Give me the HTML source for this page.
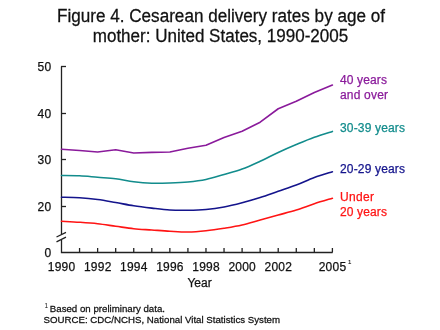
<!DOCTYPE html>
<html><head><meta charset="utf-8"><style>
html,body{margin:0;padding:0;background:#fff;width:440px;height:330px;overflow:hidden}
svg{display:block;}
#w{width:440px;height:330px;will-change:transform;}
text{stroke:currentColor;stroke-width:0.25px;}
svg{font-family:"Liberation Sans",sans-serif}
</style></head><body><div id="w">
<svg width="440" height="330" viewBox="0 0 440 330">
<rect width="440" height="330" fill="#fff"/>
<g font-size="17" fill="#111" color="#111" text-anchor="middle">
<text x="221" y="0" transform="translate(0,22) scale(1,1.05)" textLength="328" lengthAdjust="spacingAndGlyphs">Figure 4. Cesarean delivery rates by age of</text>
<text x="220.5" y="0" transform="translate(0,42.2) scale(1,1.05)" textLength="255.5" lengthAdjust="spacingAndGlyphs">mother: United States, 1990-2005</text>
</g>
<g stroke="#222" stroke-width="1.3" fill="none">
<path d="M61.5,66.5 V234 M61.5,240 V252.5 H332.6"/>
<line x1="61" y1="66.5" x2="66" y2="66.5"/><line x1="61" y1="113.5" x2="66" y2="113.5"/><line x1="61" y1="159.5" x2="66" y2="159.5"/><line x1="61" y1="206.5" x2="66" y2="206.5"/>
<line x1="79.56" y1="248" x2="79.56" y2="252.5"/><line x1="97.62" y1="248" x2="97.62" y2="252.5"/><line x1="115.68" y1="248" x2="115.68" y2="252.5"/><line x1="133.74" y1="248" x2="133.74" y2="252.5"/><line x1="151.80" y1="248" x2="151.80" y2="252.5"/><line x1="169.86" y1="248" x2="169.86" y2="252.5"/><line x1="187.92" y1="248" x2="187.92" y2="252.5"/><line x1="205.98" y1="248" x2="205.98" y2="252.5"/><line x1="224.04" y1="248" x2="224.04" y2="252.5"/><line x1="242.10" y1="248" x2="242.10" y2="252.5"/><line x1="260.16" y1="248" x2="260.16" y2="252.5"/><line x1="278.22" y1="248" x2="278.22" y2="252.5"/><line x1="296.28" y1="248" x2="296.28" y2="252.5"/><line x1="314.34" y1="248" x2="314.34" y2="252.5"/><line x1="332.40" y1="248" x2="332.40" y2="252.5"/>
<path d="M56.5,237 L66,232.3 M56.5,241.8 L66,237.1"/>
</g>
<g font-size="12" fill="#111" color="#111" text-anchor="end">
<text x="51.3" y="71.1" textLength="13.8" lengthAdjust="spacing">50</text>
<text x="51.3" y="117.6" textLength="13.8" lengthAdjust="spacing">40</text>
<text x="51.3" y="163.6" textLength="13.8" lengthAdjust="spacing">30</text>
<text x="51.3" y="210.6" textLength="13.8" lengthAdjust="spacing">20</text>
<text x="51.3" y="256.6">0</text>
</g>
<g font-size="12" fill="#111" color="#111">
<text x="61.50" y="271.3" text-anchor="middle" textLength="27.4" lengthAdjust="spacing">1990</text><text x="97.62" y="271.3" text-anchor="middle" textLength="27.4" lengthAdjust="spacing">1992</text><text x="133.74" y="271.3" text-anchor="middle" textLength="27.4" lengthAdjust="spacing">1994</text><text x="169.86" y="271.3" text-anchor="middle" textLength="27.4" lengthAdjust="spacing">1996</text><text x="205.98" y="271.3" text-anchor="middle" textLength="27.4" lengthAdjust="spacing">1998</text><text x="242.10" y="271.3" text-anchor="middle" textLength="27.4" lengthAdjust="spacing">2000</text><text x="278.22" y="271.3" text-anchor="middle" textLength="27.4" lengthAdjust="spacing">2002</text><text x="332.40" y="271.3" text-anchor="middle" textLength="27.4" lengthAdjust="spacing">2005</text>
<text x="199.5" y="286.7" text-anchor="middle">Year</text>
<text x="348" y="264" font-size="6" style="stroke-width:0.1px">1</text>
</g>
<g fill="none" stroke-width="1.6" stroke-linejoin="round" stroke-linecap="round">
<polyline points="61.50,149.30 79.56,150.50 97.62,152.00 115.68,149.80 133.74,153.00 151.80,152.40 169.86,152.00 187.92,148.25 205.98,145.25 224.04,137.50 242.10,131.25 260.16,122.20 278.22,108.75 296.28,101.25 314.34,92.50 332.40,85.00" stroke="#8a1a9b"/>
<path d="M61.50,175.50 C64.51,175.54 73.54,175.46 79.56,175.75 C85.58,176.04 91.60,176.75 97.62,177.25 C103.64,177.75 109.66,178.00 115.68,178.75 C121.70,179.50 127.72,181.01 133.74,181.75 C139.76,182.49 145.78,182.99 151.80,183.20 C157.82,183.41 163.84,183.20 169.86,183.00 C175.88,182.80 181.90,182.58 187.92,182.00 C193.94,181.42 199.96,180.75 205.98,179.50 C212.00,178.25 218.02,176.25 224.04,174.50 C230.06,172.75 236.08,171.22 242.10,169.00 C248.12,166.78 254.14,163.95 260.16,161.20 C266.18,158.45 272.20,155.27 278.22,152.50 C284.24,149.73 290.26,147.13 296.28,144.60 C302.30,142.07 308.32,139.50 314.34,137.30 C320.36,135.10 329.39,132.38 332.40,131.40" stroke="#128c8c"/>
<path d="M61.50,197.25 C64.51,197.33 73.54,197.38 79.56,197.75 C85.58,198.12 91.60,198.71 97.62,199.50 C103.64,200.29 109.66,201.46 115.68,202.50 C121.70,203.54 127.72,204.82 133.74,205.75 C139.76,206.68 145.78,207.39 151.80,208.10 C157.82,208.81 163.84,209.64 169.86,210.00 C175.88,210.36 181.90,210.33 187.92,210.25 C193.94,210.17 199.96,210.04 205.98,209.50 C212.00,208.96 218.02,208.12 224.04,207.00 C230.06,205.88 236.08,204.33 242.10,202.75 C248.12,201.17 254.14,199.42 260.16,197.50 C266.18,195.58 272.20,193.33 278.22,191.25 C284.24,189.17 290.26,187.29 296.28,185.00 C302.30,182.71 308.32,179.71 314.34,177.50 C320.36,175.29 329.39,172.71 332.40,171.75" stroke="#14148c"/>
<path d="M61.50,221.25 C64.51,221.42 73.54,221.83 79.56,222.25 C85.58,222.67 91.60,223.08 97.62,223.75 C103.64,224.42 109.66,225.42 115.68,226.25 C121.70,227.08 127.72,228.12 133.74,228.75 C139.76,229.38 145.78,229.58 151.80,230.00 C157.82,230.42 163.84,230.92 169.86,231.25 C175.88,231.58 181.90,232.08 187.92,232.00 C193.94,231.92 199.96,231.38 205.98,230.75 C212.00,230.12 218.02,229.21 224.04,228.25 C230.06,227.29 236.08,226.38 242.10,225.00 C248.12,223.62 254.14,221.67 260.16,220.00 C266.18,218.33 272.20,216.67 278.22,215.00 C284.24,213.33 290.26,211.88 296.28,210.00 C302.30,208.12 308.32,205.71 314.34,203.75 C320.36,201.79 329.39,199.17 332.40,198.25" stroke="#ff1414"/>
</g>
<g font-size="12">
<text x="340" y="84.3" fill="#8a1a9b" color="#8a1a9b" textLength="47" lengthAdjust="spacing">40 years</text>
<text x="340" y="99" fill="#8a1a9b" color="#8a1a9b" textLength="48" lengthAdjust="spacing">and over</text>
<text x="340" y="132.3" fill="#128c8c" color="#128c8c" textLength="65" lengthAdjust="spacing">30-39 years</text>
<text x="340" y="172.7" fill="#14148c" color="#14148c" textLength="65" lengthAdjust="spacing">20-29 years</text>
<text x="340" y="201" fill="#ff1414" color="#ff1414" textLength="34" lengthAdjust="spacing">Under</text>
<text x="340" y="215.7" fill="#ff1414" color="#ff1414" textLength="47" lengthAdjust="spacing">20 years</text>
</g>
<g font-size="9.7" fill="#111" color="#111" style="stroke-width:0.15px">
<text x="44.4" y="308.3" font-size="6.5" style="stroke-width:0">1</text>
<text x="49.8" y="0" transform="translate(0,312) scale(1,1.03)">Based on preliminary data.</text>
<text x="43.5" y="0" transform="translate(0,323.3) scale(1,1.03)">SOURCE: CDC/NCHS, National Vital Statistics System</text>
</g>
</svg></div>
</body></html>
